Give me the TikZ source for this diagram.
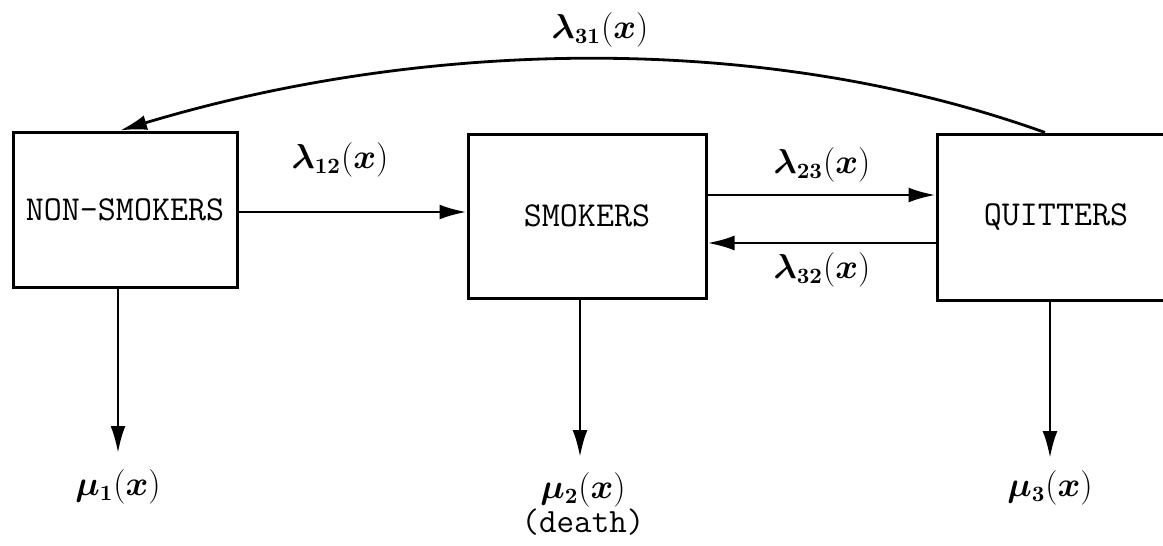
\documentclass[tikz,border=0pt]{standalone}
\usepackage{bm}
\usetikzlibrary{arrows.meta,calc}
\begin{document}
\begin{tikzpicture}[x=0.5pt,y=-0.5pt,
  state/.style={draw,line width=1.5pt,inner sep=0pt,font=\ttfamily\fontsize{17.5}{20}\selectfont},
  lab/.style={inner sep=0pt,font=\fontsize{16}{19}\selectfont},
  arr/.style={line width=1.4pt,-{Latex[length=13.5pt,width=7.5pt]}}]
\useasboundingbox (0,0) rectangle (1163,546);
\clip (0,0) rectangle (1163,546);
\node[state,minimum width=112pt,minimum height=77.5pt] (NS) at (125,209.5) {NON-SMOKERS};
\node[state,minimum width=119pt,minimum height=82pt] (S) at (587,216) {SMOKERS};
\node[state,minimum width=119pt,minimum height=83pt] (Q) at (1056,217) {QUITTERS};
% labels
\node[lab] (l31) at (600,30) {$\bm{\lambda}_{\bm{31}}(\bm{x})$};
\node[lab] (l12) at (340,160) {$\bm{\lambda}_{\bm{12}}(\bm{x})$};
\node[lab] (l23) at (822,165) {$\bm{\lambda}_{\bm{23}}(\bm{x})$};
\node[lab] (l32) at (822,270) {$\bm{\lambda}_{\bm{32}}(\bm{x})$};
\node[lab] (m1) at (118,487) {$\bm{\mu}_{\bm{1}}(\bm{x})$};
\node[lab] (m2) at (583,490) {$\bm{\mu}_{\bm{2}}(\bm{x})$};
\node[lab,font=\ttfamily\fontsize{17}{20}\selectfont] (death) at (583,522) {(death)};
\node[lab] (m3) at (1050,488) {$\bm{\mu}_{\bm{3}}(\bm{x})$};
% tips
\coordinate (t1) at (118,453);
\coordinate (t2) at (580,457);
\coordinate (t3) at (1050,458);
\coordinate (c31a) at (1045,0);
\coordinate (c31b) at (120,0);
% connectors
\draw[arr] (NS.east |- 0,212) -- (S.west |- 0,212);
\draw[arr] (S.east |- 0,195) -- (Q.west |- 0,195);
\draw[arr] (Q.west |- 0,243) -- (S.east |- 0,243);
\draw[arr] (NS.south -| t1) -- (t1);
\draw[arr] (S.south -| t2) -- (t2);
\draw[arr] (Q.north -| c31a) .. controls (760,30) and (420,40) .. (NS.north -| c31b);
\draw[arr] (Q.south -| t3) -- (t3);
\end{tikzpicture}
\end{document}
